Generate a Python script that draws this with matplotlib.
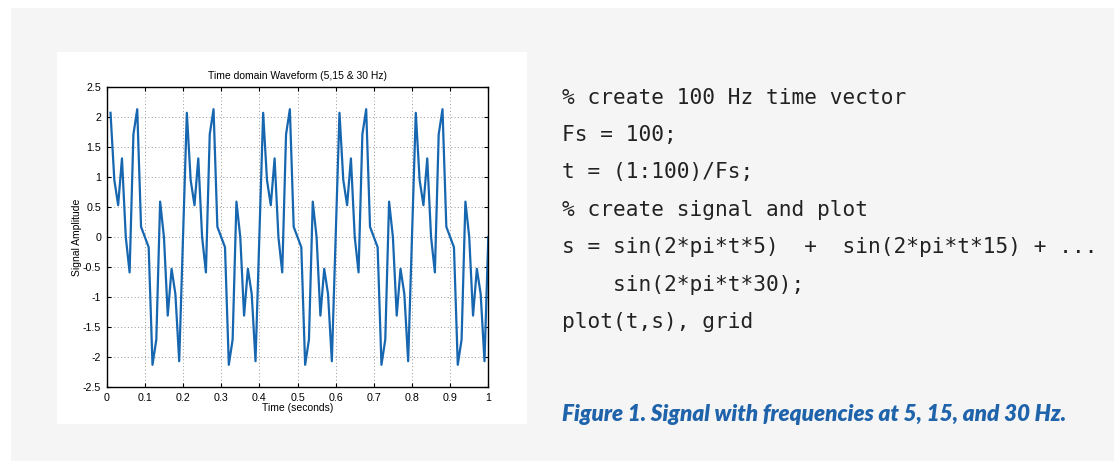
import numpy as np
import matplotlib
matplotlib.use('Agg')
import matplotlib.pyplot as plt
from matplotlib.patches import Rectangle

plt.rcParams['font.family'] = ['Liberation Sans', 'DejaVu Sans']

W, H = 1114, 461
DPI = 100

# sample times (1:100)/Fs, Fs = 100
t = np.arange(1, 101) / 100.0

# signal amplitude
s = [
    2.07, 0.95, 0.53, 1.31, 0.00, -0.59, 1.71, 2.13, 0.17, 0.00,
    -0.17, -2.13, -1.71, 0.59, 0.00, -1.31, -0.53, -0.95, -2.07, 0.00,
    2.07, 0.95, 0.53, 1.31, 0.00, -0.59, 1.71, 2.13, 0.17, 0.00,
    -0.17, -2.13, -1.71, 0.59, 0.00, -1.31, -0.53, -0.95, -2.07, 0.00,
    2.07, 0.95, 0.53, 1.31, 0.00, -0.59, 1.71, 2.13, 0.17, 0.00,
    -0.17, -2.13, -1.71, 0.59, 0.00, -1.31, -0.53, -0.95, -2.07, 0.00,
    2.07, 0.95, 0.53, 1.31, 0.00, -0.59, 1.71, 2.13, 0.17, 0.00,
    -0.17, -2.13, -1.71, 0.59, 0.00, -1.31, -0.53, -0.95, -2.07, 0.00,
    2.07, 0.95, 0.53, 1.31, 0.00, -0.59, 1.71, 2.13, 0.17, 0.00,
    -0.17, -2.13, -1.71, 0.59, 0.00, -1.31, -0.53, -0.95, -2.07, 0.00,
]

x_ticks = [0, 0.1, 0.2, 0.3, 0.4, 0.5, 0.6, 0.7, 0.8, 0.9, 1]
x_labels = ['0', '0.1', '0.2', '0.3', '0.4', '0.5', '0.6', '0.7', '0.8', '0.9', '1']
y_ticks = [-2.5, -2, -1.5, -1, -0.5, 0, 0.5, 1, 1.5, 2, 2.5]
y_labels = ['-2.5', '-2', '-1.5', '-1', '-0.5', '0', '0.5', '1', '1.5', '2', '2.5']

code_lines = [
    '% create 100 Hz time vector',
    'Fs = 100;',
    't = (1:100)/Fs;',
    '% create signal and plot',
    's = sin(2*pi*t*5)  +  sin(2*pi*t*15) + ...',
    '    sin(2*pi*t*30);',
    'plot(t,s), grid',
]
caption = 'Figure 1. Signal with frequencies at 5, 15, and 30 Hz.'


def px(x, y):
    """pixel (from top-left) -> figure fraction"""
    return x / W, 1 - y / H


fig = plt.figure(figsize=(W / DPI, H / DPI), dpi=DPI, facecolor='white')

# gray page panel and white plot card (behind everything)
fig.patches.append(Rectangle(px(11, H), (W - 11) / W, (H - 8) / H,
                             transform=fig.transFigure, facecolor='#f5f5f5',
                             edgecolor='none', zorder=-10))
fig.patches.append(Rectangle(px(57, 424), (527 - 57) / W, (424 - 52) / H,
                             transform=fig.transFigure, facecolor='white',
                             edgecolor='none', zorder=-9))

# ---- waveform axes ----
l, b = px(106.7, 387)
ax = fig.add_axes([l, b, (488.3 - 106.7) / W, (387 - 87) / H])
ax.set_zorder(5)
ax.plot(t, s, color='#1666b0', linewidth=1.6)
ax.set_xlim(0, 1)
ax.set_ylim(-2.5, 2.5)
ax.set_xticks(x_ticks)
ax.set_xticklabels(x_labels)
ax.set_yticks(y_ticks)
ax.set_yticklabels(y_labels)
ax.tick_params(direction='in', length=3, width=0.8, labelsize=7.7,
               top=True, right=True, pad=4, colors='black')
ax.grid(True, color='#999999', linestyle=(0, (1, 2.5)), linewidth=0.7)
for sp in ax.spines.values():
    sp.set_linewidth(1.0)
    sp.set_color('black')
ax.set_title('Time domain Waveform (5,15 & 30 Hz)', fontsize=7.5, pad=6)
ax.set_xlabel('Time (seconds)', fontsize=7.5, labelpad=0)
ax.set_ylabel('Signal Amplitude', fontsize=7.5, labelpad=1)

# ---- MATLAB code listing ----
base0 = 103.5
step = 37.4
for i, line in enumerate(code_lines):
    fig.text(*px(562, base0 + i * step), line, fontsize=15.2,
             family='DejaVu Sans Mono', color='#222222', va='baseline', ha='left')

# ---- caption ----
fig.text(*px(562, 421), caption, fontsize=16.2, family=['Lato', 'DejaVu Sans'],
         fontweight='heavy', fontstyle='italic', color='#1f63ab',
         va='baseline', ha='left')

fig.savefig('out.png', dpi=DPI, facecolor='white')
